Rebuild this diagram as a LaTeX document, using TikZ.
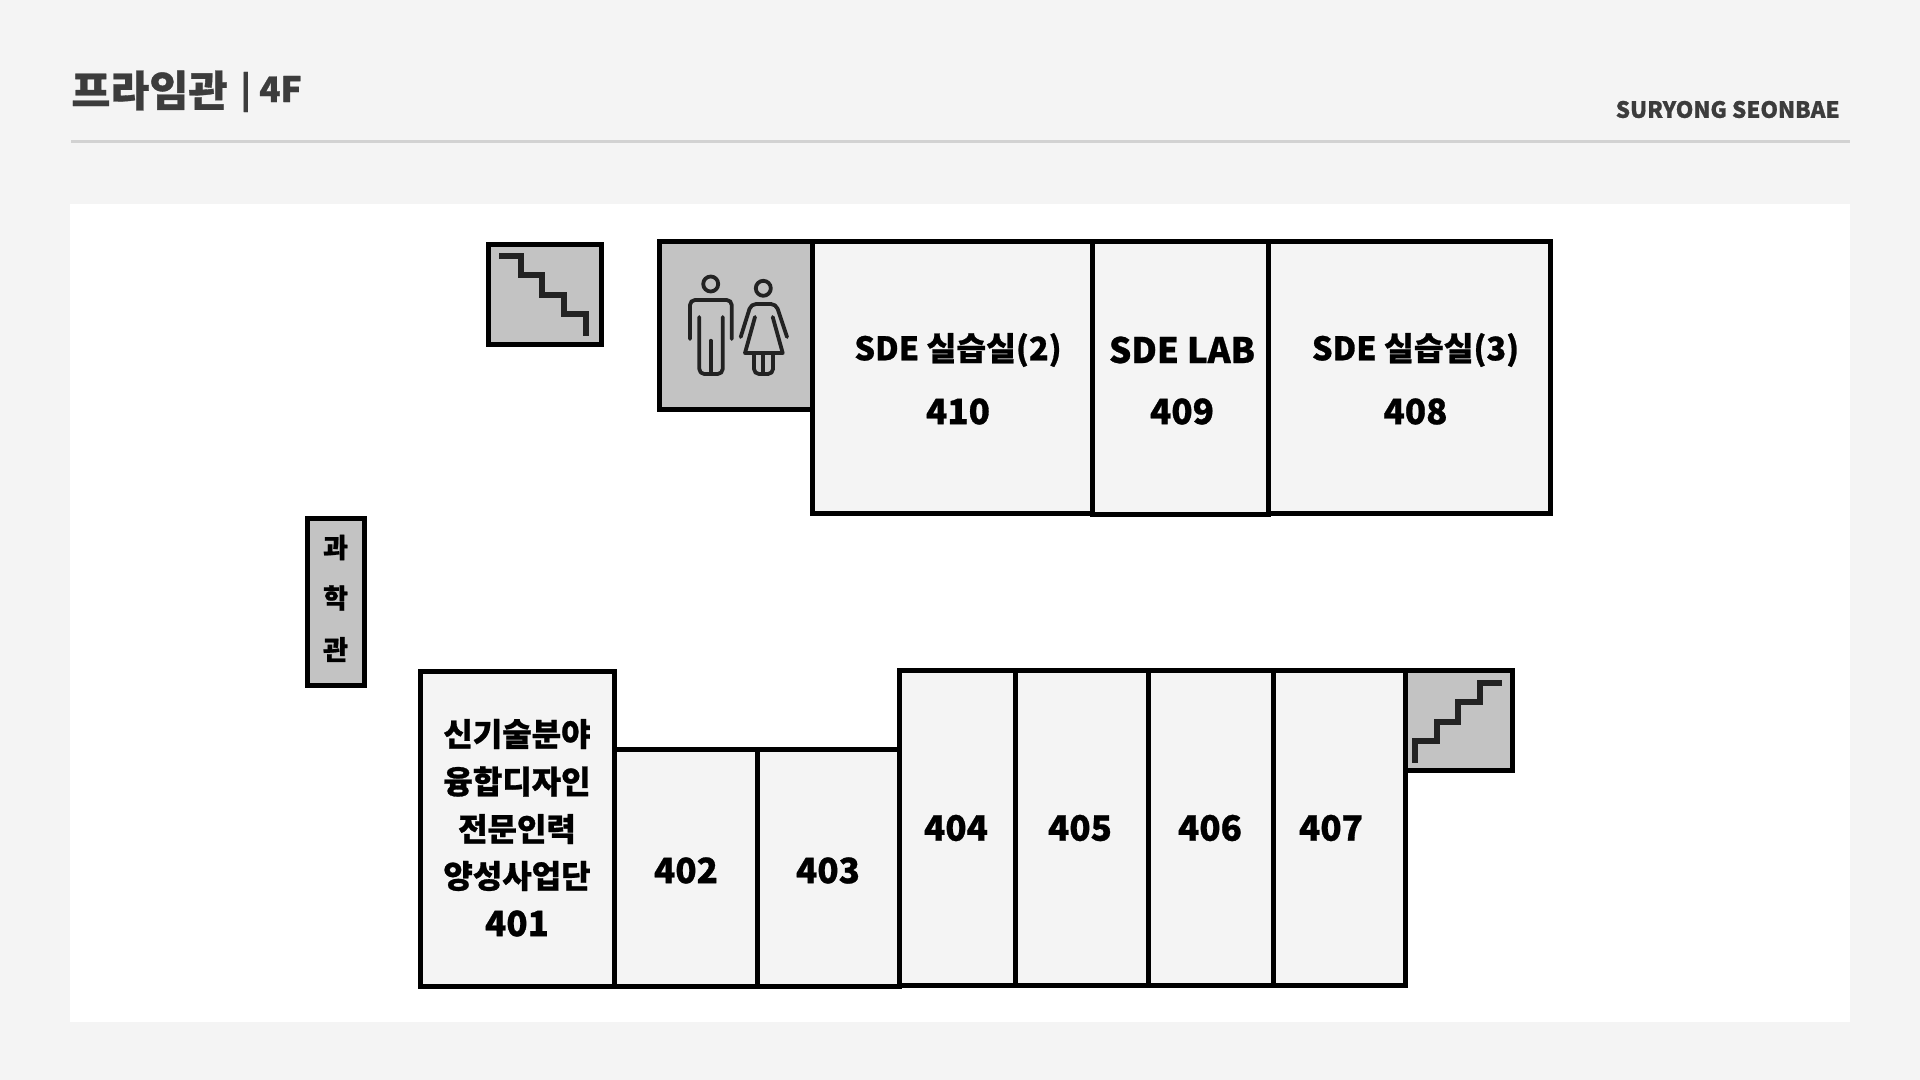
\documentclass[tikz,border=0pt]{standalone}
\usepackage{fontspec}
\setmainfont[UprightFont=* Black,BoldFont=* Black,FakeBold=0.8]{Noto Sans CJK KR}
\definecolor{pagegray}{HTML}{F4F4F4}
\definecolor{wallgray}{HTML}{C3C3C3}
\definecolor{rulegray}{HTML}{D2D2D2}
\definecolor{titlegray}{HTML}{3C3C3C}
\definecolor{iconblack}{HTML}{222222}
\tikzset{
  room/.style={draw=black, line width=2.5pt, fill=pagegray},
  service/.style={draw=black, line width=2.5pt, fill=wallgray},
  stairline/.style={draw=iconblack, line width=3pt},
  wcline/.style={draw=iconblack, line width=1.9pt, line cap=round, line join=round, rounded corners=2.5pt},
  numlabel/.style={text=black, font=\fontsize{17.5}{20}\selectfont},
  namelabel/.style={text=black, font=\fontsize{16.2}{20}\selectfont},
  krlabel/.style={text=black, font=\fontsize{16}{20}\selectfont},
  sidelabel/.style={text=black, font=\fontsize{13.5}{14}\selectfont}
}

\begin{document}
\begin{tikzpicture}[x=0.5pt, y=-0.5pt]
\useasboundingbox (0,0) rectangle (1920,1080);
% page
\fill[pagegray] (0,0) rectangle (1920,1080);
\fill[white] (70,204) rectangle (1850,1022);
\draw[rulegray, line width=1.5pt] (71,141.5) -- (1850,141.5);
% header
\node[anchor=west, inner sep=0, text=titlegray, font=\fontsize{21.2}{24}\selectfont] (title) at (71,90.5) {프라임관};
\node[anchor=west, inner sep=0, text=titlegray, font=\fontsize{17.5}{20}\selectfont] (floor) at (240,92) {| 4F};
\node[anchor=east, inner sep=0, text=titlegray, font=\fontsize{11.2}{14}\selectfont] (brand) at (1840,109.5) {SURYONG SEONBAE};
% upper wing
\draw[service] (488.5,244.5) rectangle (601.5,345);
\draw[service] (659.5,241.5) rectangle (812.5,409.5);
\draw[room] (812.5,241.5) rectangle (1092,513);
\draw[room] (1268.5,241.5) rectangle (1550.5,513.5);
\draw[room] (1092,241.5) rectangle (1268.5,514);
% side block
\draw[service] (307.5,518.5) rectangle (364.5,685.5);
% lower wing
\draw[room] (420.5,671.5) rectangle (614.5,986.5);
\draw[room] (614.5,749) rectangle (757,986.5);
\draw[room] (757,749) rectangle (899.5,986.5);
\draw[room] (899.5,670.5) rectangle (1015,985);
\draw[room] (1015,670.5) rectangle (1148.5,985);
\draw[room] (1148.5,670.5) rectangle (1273.5,985);
\draw[room] (1273.5,670.5) rectangle (1405.5,985);
\draw[service] (1405.5,670.5) rectangle (1512.5,770.5);
% stairs
\draw[stairline] (499,255.7) -| (520.7,275) -| (542,294.7) -| (564,314) -| (585.7,336);
\draw[stairline] (1415,762.7) |- (1437,741) |- (1458,721.5) |- (1480,701.7) |- (1501.7,682.7);
% man
\draw[wcline, rounded corners=0pt] (710.7,284) circle (7.5);
\draw[wcline] (690,339) -- (690,300) -- (731.7,300) -- (731.7,339);
\draw[wcline] (699.3,317) -- (699.3,374) -- (722.7,374) -- (722.7,317);
\draw[wcline] (710.7,340.7) -- (710.7,374);
% woman
\draw[wcline, rounded corners=0pt] (763.3,288.3) circle (7.5);
\draw[wcline] (740.7,337) -- (751,304) -- (776,304) -- (787,337);
\draw[wcline, rounded corners=0pt] (755,317) -- (745,353) -- (782.7,353) -- (772.7,317);
\draw[wcline] (754,353) -- (754,374) -- (773,374) -- (773,353);
\draw[wcline] (763.3,353) -- (763.3,373);
% labels
\node[namelabel] (name410) at (958,350) {SDE 실습실(2)};
\node[numlabel] (num410) at (958,411.5) {410};
\node[numlabel] (name409) at (1182,350) {SDE LAB};
\node[numlabel] (num409) at (1182,411.5) {409};
\node[namelabel] (name408) at (1415.5,350) {SDE 실습실(3)};
\node[numlabel] (num408) at (1415.5,411.5) {408};
\node[sidelabel] (sideA) at (335.5,547.5) {과};
\node[sidelabel] (sideB) at (335.5,598) {학};
\node[sidelabel] (sideC) at (335.5,649.5) {관};
\node[krlabel] (lineA) at (517,734) {신기술분야};
\node[krlabel] (lineB) at (517,781.5) {융합디자인};
\node[krlabel] (lineC) at (517,829) {전문인력};
\node[krlabel] (lineD) at (517,876) {양성사업단};
\node[numlabel] (num401) at (517,923.5) {401};
\node[numlabel] (num402) at (686,870.5) {402};
\node[numlabel] (num403) at (828,870.5) {403};
\node[numlabel] (num404) at (956,828) {404};
\node[numlabel] (num405) at (1080,828) {405};
\node[numlabel] (num406) at (1210,828) {406};
\node[numlabel] (num407) at (1331,828) {407};
\end{tikzpicture}
\end{document}
